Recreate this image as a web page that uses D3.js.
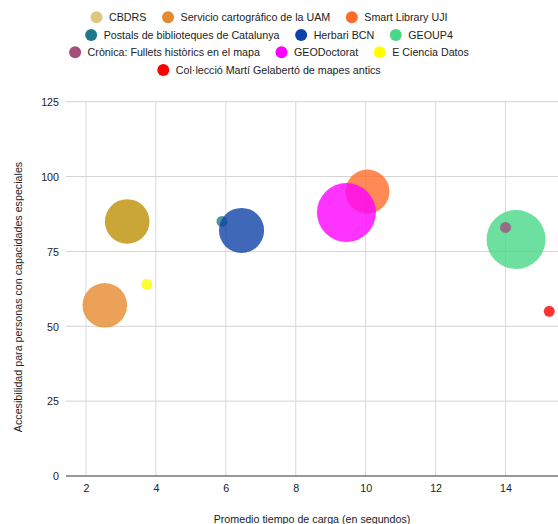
<!DOCTYPE html>
<html>
<head>
<meta charset="utf-8">
<script src="https://cdn.jsdelivr.net/npm/d3@7"></script>
<style>
  html, body { margin: 0; padding: 0; background: #fff; }
  svg { display: block; font-family: "Liberation Sans", Arial, sans-serif; }
</style>
</head>
<body>
<svg id="chart" width="558" height="524"></svg>
<script>
// Series, in drawing order
const names = [
  "CBDRS",
  "Servicio cartográfico de la UAM",
  "Smart Library UJI",
  "Postals de biblioteques de Catalunya",
  "Herbari BCN",
  "GEOUP4",
  "Crònica: Fullets històrics en el mapa",
  "GEODoctorat",
  "E Ciencia Datos",
  "Col·lecció Martí Gelabertó de mapes antics"
];
// Average load time (s)
const loadTime = [3.18, 2.54, 10.05, 5.89, 6.45, 14.3, 14.0, 9.45, 3.74, 15.25];
// Accessibility score
const accessibility = [85, 57, 95, 85, 82, 79, 83, 88, 64, 55];
// Bubble size value
const sizes = [7.3, 7.3, 7.2, 1, 7.4, 10, 1, 10, 1, 1];
// Legend swatch colours
const colors = ["#e0c77f", "#e68a2e", "#ff6d2c", "#1e7a8a", "#0f42a8",
                "#48d888", "#a34f7a", "#ff00ff", "#ffff00", "#ff0000"];
// Bubble fill colours
const bubbleColors = ["#bb9002", "#e68a2e", "#ff6d2c", "#1e7a8a", "#0f42a8",
                      "#48d888", "#a34f7a", "#ff00ff", "#ffff00", "#ff0000"];
const legendRows = [[0, 1, 2], [3, 4, 5], [6, 7, 8], [9]];
const xTicks = [2, 4, 6, 8, 10, 12, 14];
const yTicks = [0, 25, 50, 75, 100, 125];
const xTitle = "Promedio tiempo de carga (en segundos)";
const yTitle = "Accesibilidad para personas con capacidades especiales";

const svg = d3.select("#chart");
const W = 558, H = 524;
const plot = { left: 66, right: 558, top: 101.7, bottom: 476 };

const x = d3.scaleLinear().domain([1.43, 15.5]).range([plot.left, plot.right]);
const y = d3.scaleLinear().domain([0, 125]).range([plot.bottom, plot.top]);
const r = d3.scaleLinear().domain([1, 10]).range([5.5, 29.5]);

const fontSize = 10.7;

// Gridlines
const grid = svg.append("g");
grid.selectAll("line.h").data(yTicks.filter(d => d > 0)).join("line")
  .attr("x1", plot.left).attr("x2", plot.right)
  .attr("y1", d => y(d)).attr("y2", d => y(d))
  .attr("stroke", "#d3d3d3").attr("stroke-width", 1);
grid.selectAll("line.v").data(xTicks).join("line")
  .attr("x1", d => x(d)).attr("x2", d => x(d))
  .attr("y1", plot.top).attr("y2", plot.bottom)
  .attr("stroke", "#d9d9d9").attr("stroke-width", 1);

// Axes (labels only, baseline drawn separately)
const xAxis = d3.axisBottom(x).tickValues(xTicks).tickSize(0).tickPadding(0).tickFormat(d3.format("d"));
const gx = svg.append("g").attr("transform", `translate(0,${plot.bottom})`).call(xAxis);
gx.select(".domain").remove();
gx.selectAll("text").attr("y", 16).attr("dy", 0)
  .attr("font-size", fontSize).attr("fill", "#222").attr("font-family", null);

const yAxis = d3.axisLeft(y).tickValues(yTicks).tickSize(0).tickPadding(0).tickFormat(d3.format("d"));
const gy = svg.append("g").attr("transform", `translate(${plot.left - 7},0)`).call(yAxis);
gy.select(".domain").remove();
gy.selectAll("text").attr("x", 0).attr("dy", "0.35em")
  .attr("font-size", fontSize).attr("fill", "#222").attr("font-family", null);

// Bubbles
const data = names.map((n, i) => ({ name: n, x: loadTime[i], y: accessibility[i], s: sizes[i], fill: bubbleColors[i] }));
svg.append("defs").append("clipPath").attr("id", "clip")
  .append("rect").attr("x", plot.left).attr("y", 0).attr("width", W - plot.left).attr("height", plot.bottom);
svg.append("g").attr("clip-path", "url(#clip)")
  .selectAll("circle").data(data).join("circle")
  .attr("cx", d => x(d.x)).attr("cy", d => y(d.y)).attr("r", d => r(d.s))
  .attr("fill", d => d.fill).attr("fill-opacity", 0.8);

// Baseline
svg.append("line")
  .attr("x1", plot.left).attr("x2", plot.right)
  .attr("y1", plot.bottom).attr("y2", plot.bottom)
  .attr("stroke", "#333").attr("stroke-width", 1);

// Axis titles
svg.append("text").attr("x", 312).attr("y", 523)
  .attr("text-anchor", "middle").attr("font-size", fontSize).attr("fill", "#222").text(xTitle);
svg.append("text").attr("transform", "translate(18,297) rotate(-90)")
  .attr("text-anchor", "middle").attr("dy", "0.35em")
  .attr("font-size", fontSize).attr("fill", "#222").text(yTitle);

// Legend, rows centred
const legend = svg.append("g");
const rowY = [17.3, 35, 52.3, 70];
const centerX = 269;
const swatchR = 6, textGap = 12.5, itemGap = 15.6;
legendRows.forEach((row, ri) => {
  const items = row.map(i => {
    const g = legend.append("g");
    g.append("circle").attr("r", swatchR).attr("fill", colors[i]);
    const t = g.append("text").attr("x", textGap).attr("dy", "0.35em")
      .attr("font-size", fontSize).attr("fill", "#222").text(names[i]);
    return { g, w: swatchR + textGap + t.node().getComputedTextLength() };
  });
  const total = d3.sum(items, d => d.w) + itemGap * (items.length - 1);
  let cx = centerX - total / 2 + swatchR;
  items.forEach(it => {
    it.g.attr("transform", `translate(${cx},${rowY[ri]})`);
    cx += it.w + itemGap;
  });
});
</script>
</body>
</html>
